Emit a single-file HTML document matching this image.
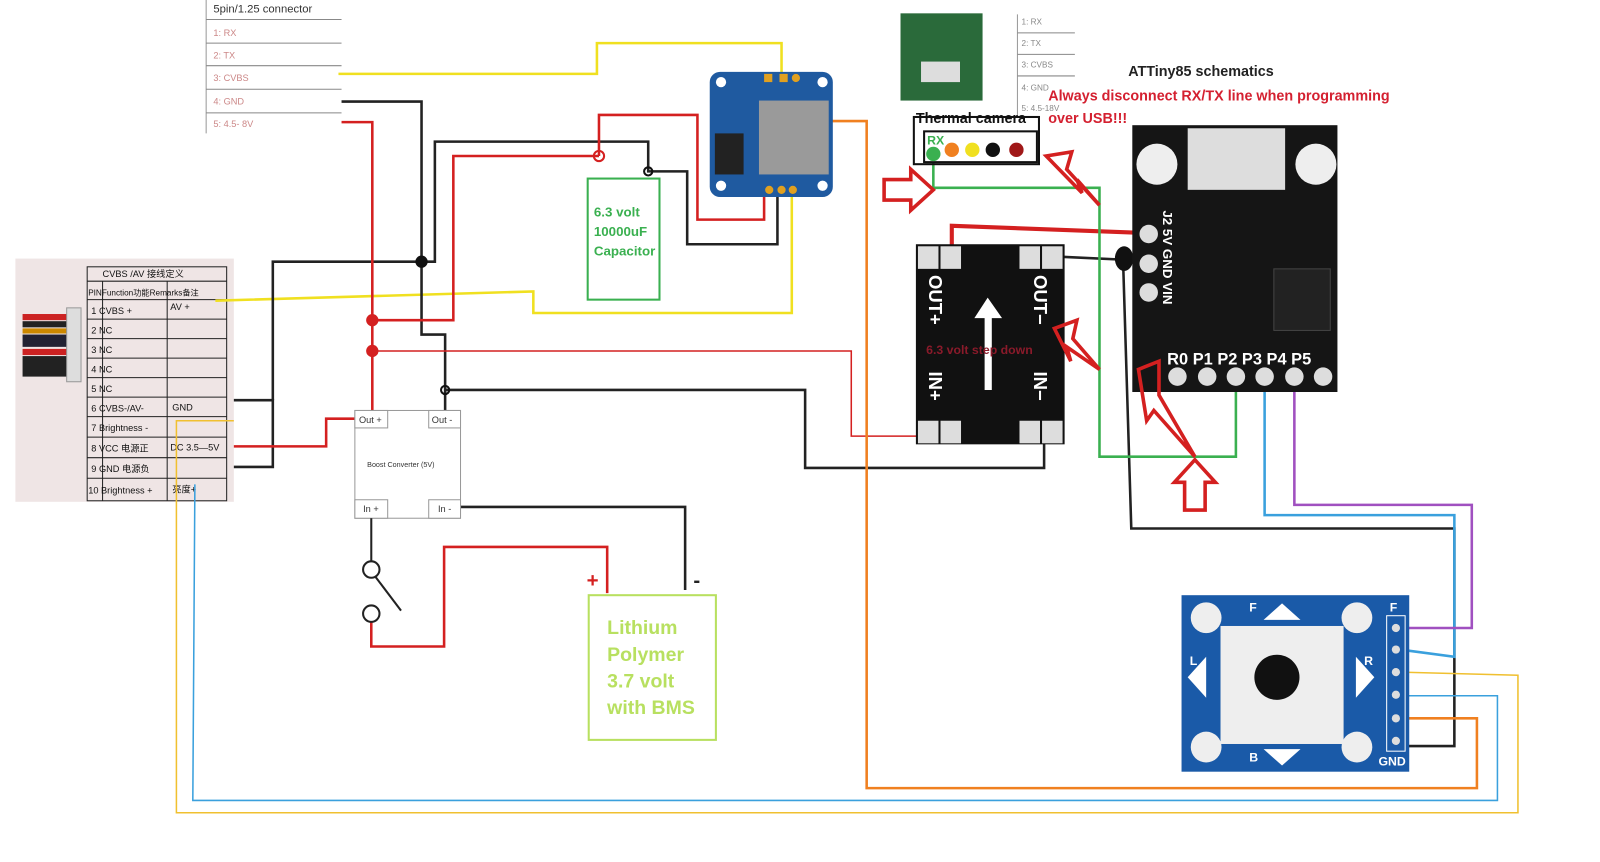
<!DOCTYPE html>
<html><head><meta charset="utf-8"><style>
html,body{margin:0;padding:0;background:#fff;width:1600px;height:862px;overflow:hidden}
svg{display:block}
text{font-family:"Liberation Sans","Noto Sans CJK SC",sans-serif}
</style></head><body>
<svg width="1600" height="862" viewBox="0 0 1560 840" preserveAspectRatio="none" xmlns="http://www.w3.org/2000/svg">
<rect width="1560" height="840" fill="#fff"/>
<g font-family="Liberation Serif" font-size="9" fill="#c88">
<line x1="201" y1="0" x2="201" y2="130" stroke="#999"/>
<text x="208" y="12" fill="#333" font-family="Liberation Mono" font-size="11">5pin/1.25 connector</text>
<line x1="201" y1="19" x2="333" y2="19" stroke="#888"/>
<text x="208" y="35">1: RX</text>
<line x1="201" y1="42" x2="333" y2="42" stroke="#888"/>
<text x="208" y="57">2: TX</text>
<line x1="201" y1="64" x2="333" y2="64" stroke="#888"/>
<text x="208" y="79">3: CVBS</text>
<line x1="201" y1="87" x2="333" y2="87" stroke="#888"/>
<text x="208" y="102">4: GND</text>
<line x1="201" y1="110" x2="333" y2="110" stroke="#888"/>
<text x="208" y="124">5: 4.5- 8V</text>
</g>
<rect x="15" y="252" width="213" height="237" fill="#efe5e5"/>
<g stroke="#222" fill="none" stroke-width="1">
<rect x="85" y="260" width="136" height="228"/>
<line x1="85" y1="274" x2="221" y2="274"/><line x1="85" y1="292" x2="221" y2="292"/>
<line x1="85" y1="311" x2="221" y2="311"/><line x1="85" y1="330" x2="221" y2="330"/>
<line x1="85" y1="349" x2="221" y2="349"/><line x1="85" y1="368" x2="221" y2="368"/>
<line x1="85" y1="387" x2="221" y2="387"/><line x1="85" y1="406" x2="221" y2="406"/>
<line x1="85" y1="426" x2="221" y2="426"/><line x1="85" y1="446" x2="221" y2="446"/>
<line x1="85" y1="466" x2="221" y2="466"/>
<line x1="100" y1="274" x2="100" y2="488"/><line x1="163" y1="274" x2="163" y2="488"/>
</g>
<g font-size="9" fill="#111">
<text x="100" y="270">CVBS /AV 接线定义</text>
<text x="86" y="288" font-size="8">PINFunction功能Remarks备注</text>
<text x="89" y="306">1  CVBS +</text><text x="166" y="302">AV +</text>
<text x="89" y="325">2  NC</text><text x="89" y="344">3  NC</text><text x="89" y="363">4  NC</text><text x="89" y="382">5  NC</text>
<text x="89" y="401">6  CVBS-/AV-</text><text x="168" y="400">GND</text>
<text x="89" y="420">7  Brightness -</text>
<text x="89" y="440">8  VCC 电源正</text><text x="166" y="439">DC 3.5—5V</text>
<text x="89" y="460">9  GND 电源负</text>
<text x="86" y="481">10 Brightness +</text><text x="168" y="480">亮度+</text>
</g>
<g><rect x="22" y="306" width="50" height="6" fill="#c22"/><rect x="22" y="313" width="50" height="6" fill="#222"/><rect x="22" y="320" width="50" height="5" fill="#c80"/><rect x="22" y="326" width="50" height="12" fill="#223"/><rect x="22" y="340" width="50" height="6" fill="#c22"/><rect x="22" y="347" width="50" height="20" fill="#222"/><rect x="65" y="300" width="14" height="72" fill="#ddd" stroke="#999"/></g>

<g fill="none" stroke-width="2.5">
<polyline stroke="#f0e020" points="330,72 582,72 582,42 762,42 762,72"/>
<polyline stroke="#f0e020" points="210,293 520,284 520,305 772,305 772,188"/>
<polyline stroke="#222" points="333,99 411,99 411,326 434,326 434,400"/>
<polyline stroke="#222" points="266,390 266,255 411,255"/>
<polyline stroke="#222" points="228,390 266,390 266,455 228,455"/>
<polyline stroke="#222" points="411,255 424,255 424,138 632,138 632,167 670,167 670,238 758,238 758,188"/>
<polyline stroke="#222" points="434,380 785,380 785,456 1018,456 1018,425"/>
<polyline stroke="#222" points="449,494 668,494 668,575"/>
<polyline stroke="#d42020" points="333,119 363,119 363,400"/>
<polyline stroke="#d42020" points="363,312 442,312 442,152 584,152"/>
<polyline stroke="#d42020" points="584,152 584,112 680,112 680,214 745,214 745,188"/>
<polyline stroke="#d42020" stroke-width="1.5" points="363,342 830,342 830,425 896,425"/>
<polyline stroke="#d42020" points="228,435 318,435 318,408 346,408"/>
<polyline stroke="#d42020" points="362,605 362,630 433,630 433,533 592,533 592,578"/>
<polyline stroke="#d42020" stroke-width="4" points="928,242 928,220 1115,227"/>
<polyline stroke="#222" stroke-width="2.5" points="1030,250 1115,254"/>
<polyline stroke="#222" points="1095,254 1103,515 1418,515 1418,727 1365,727"/>
<polyline stroke="#f08020" points="712,118 845,118 845,768 1440,768 1440,700 1365,700"/>
<polyline stroke="#3aa0dd" points="1233,365 1233,502 1418,502 1418,640 1365,633"/>
<polyline stroke="#a050c0" points="1262,365 1262,492 1435,492 1435,612 1365,612"/>
<polyline stroke="#3aa0dd" stroke-width="1.5" points="190,472 188,780 1460,780 1460,678 1365,678"/>
<polyline stroke="#f0c030" stroke-width="1.5" points="228,410 172,410 172,792 1480,792 1480,658 1365,655"/>
<polyline stroke="#3ab050" points="910,150 910,183 1072,183 1072,445 1205,445 1205,365"/>
</g>
<g fill="#d42020"><circle cx="363" cy="312" r="6"/><circle cx="363" cy="342" r="6"/><circle cx="584" cy="152" r="5" fill="none" stroke="#d42020" stroke-width="2"/></g>
<g fill="none" stroke="#111" stroke-width="2"><circle cx="411" cy="255" r="5" fill="#111"/><circle cx="632" cy="167" r="4"/><circle cx="434" cy="380" r="4"/></g>
<ellipse cx="1096" cy="252" rx="9" ry="12" fill="#111"/>

<rect x="573" y="174" width="70" height="118" fill="#fff" stroke="#3ab050" stroke-width="2"/>
<g font-size="13" font-weight="bold" fill="#3ab050"><text x="579" y="211">6.3 volt</text><text x="579" y="230">10000uF</text><text x="579" y="249">Capacitor</text></g>
<rect x="346" y="400" width="103" height="105" fill="#fff" stroke="#999"/>
<rect x="346" y="400" width="32" height="17" fill="#fff" stroke="#999"/><rect x="418" y="400" width="31" height="17" fill="#fff" stroke="#999"/>
<rect x="346" y="487" width="32" height="18" fill="#fff" stroke="#999"/><rect x="418" y="487" width="31" height="18" fill="#fff" stroke="#999"/>
<g font-size="9" fill="#333"><text x="350" y="412">Out +</text><text x="421" y="412">Out -</text><text x="354" y="499">In +</text><text x="427" y="499">In -</text><text x="358" y="455" font-size="7">Boost Converter (5V)</text></g>
<circle cx="362" cy="555" r="8" fill="#fff" stroke="#222" stroke-width="2"/><circle cx="362" cy="598" r="8" fill="#fff" stroke="#222" stroke-width="2"/>
<line x1="366" y1="562" x2="391" y2="595" stroke="#222" stroke-width="2"/>
<line x1="362" y1="505" x2="362" y2="547" stroke="#222" stroke-width="2"/>
<rect x="574" y="580" width="124" height="141" fill="#fff" stroke="#b8e060" stroke-width="2"/>
<g font-size="19" font-weight="bold" fill="#b8e060"><text x="592" y="618">Lithium</text><text x="592" y="644">Polymer</text><text x="592" y="670">3.7 volt</text><text x="592" y="696">with BMS</text></g>
<text x="572" y="572" font-size="20" font-weight="bold" fill="#d42020">+</text><text x="676" y="572" font-size="20" font-weight="bold" fill="#222">-</text>
<rect x="692" y="70" width="120" height="122" rx="10" fill="#1f5aa0"/>
<rect x="740" y="98" width="68" height="72" fill="#9a9a9a"/>
<rect x="697" y="130" width="28" height="40" fill="#222"/>
<g fill="#e0a020"><circle cx="750" cy="185" r="4"/><circle cx="762" cy="185" r="4"/><circle cx="773" cy="185" r="4"/><rect x="745" y="72" width="8" height="8"/><rect x="760" y="72" width="8" height="8"/><circle cx="776" cy="76" r="4"/></g>
<g fill="#fff"><circle cx="703" cy="80" r="5"/><circle cx="802" cy="80" r="5"/><circle cx="703" cy="181" r="5"/><circle cx="802" cy="181" r="5"/></g>
<rect x="878" y="13" width="80" height="85" fill="#2a6a3a"/>
<rect x="898" y="60" width="38" height="20" fill="#ddd"/>
<g font-size="8" fill="#888" font-family="Liberation Serif"><line x1="992" y1="14" x2="992" y2="112" stroke="#999"/>
<text x="996" y="24">1: RX</text><line x1="992" y1="32" x2="1048" y2="32" stroke="#888"/>
<text x="996" y="45">2: TX</text><line x1="992" y1="53" x2="1048" y2="53" stroke="#888"/>
<text x="996" y="66">3: CVBS</text><line x1="992" y1="74" x2="1048" y2="74" stroke="#888"/>
<text x="996" y="88">4: GND</text><text x="996" y="108">5: 4.5-18V</text></g>
<text x="893" y="120" font-size="14" font-weight="bold" fill="#111">Thermal camera</text>
<rect x="891" y="114" width="122" height="46" fill="none" stroke="#111" stroke-width="2"/>
<rect x="901" y="128" width="110" height="30" fill="#fff" stroke="#111" stroke-width="2"/>
<g><circle cx="910" cy="150" r="7" fill="#3ab050"/><circle cx="928" cy="146" r="7" fill="#f08020"/><circle cx="948" cy="146" r="7" fill="#f0e020"/><circle cx="968" cy="146" r="7" fill="#111"/><circle cx="991" cy="146" r="7" fill="#a01818"/></g>
<text x="904" y="141" font-size="12" font-weight="bold" fill="#3ab050">RX</text>
<text x="1100" y="74" font-size="14" font-weight="bold" fill="#222">ATTiny85 schematics</text>
<text x="1022" y="98" font-size="14" font-weight="bold" fill="#d42030">Always disconnect RX/TX line when programming</text>
<text x="1022" y="120" font-size="14" font-weight="bold" fill="#d42030">over USB!!!</text>
<rect x="1104" y="122" width="200" height="260" fill="#151515"/>
<rect x="1158" y="125" width="95" height="60" fill="#ddd"/>
<g fill="#eee"><circle cx="1128" cy="160" r="20"/><circle cx="1283" cy="160" r="20"/></g>
<rect x="1242" y="262" width="55" height="60" fill="#222" stroke="#444"/>
<g fill="#ddd"><circle cx="1148" cy="367" r="9"/><circle cx="1177" cy="367" r="9"/><circle cx="1205" cy="367" r="9"/><circle cx="1233" cy="367" r="9"/><circle cx="1262" cy="367" r="9"/><circle cx="1290" cy="367" r="9"/><circle cx="1120" cy="228" r="9"/><circle cx="1120" cy="257" r="9"/><circle cx="1120" cy="285" r="9"/></g>
<text x="1138" y="355" font-size="16" font-weight="bold" fill="#fff">R0 P1 P2 P3 P4 P5</text>
<text transform="translate(1134,205) rotate(90)" font-size="13" font-weight="bold" fill="#fff">J2  5V GND VIN</text>
<rect x="893" y="238" width="145" height="195" fill="#111"/>
<g fill="#ddd"><rect x="895" y="240" width="20" height="22"/><rect x="917" y="240" width="20" height="22"/><rect x="994" y="240" width="20" height="22"/><rect x="1016" y="240" width="20" height="22"/><rect x="895" y="410" width="20" height="22"/><rect x="917" y="410" width="20" height="22"/><rect x="994" y="410" width="20" height="22"/><rect x="1016" y="410" width="20" height="22"/></g>
<g font-size="18" font-weight="bold" fill="#fff"><text transform="translate(906,268) rotate(90)">OUT+</text><text transform="translate(1008,268) rotate(90)">OUT−</text><text transform="translate(906,362) rotate(90)">IN+</text><text transform="translate(1008,362) rotate(90)">IN−</text></g>
<path d="M963 290 L950 310 L960 310 L960 380 L967 380 L967 310 L977 310 Z" fill="#fff"/>
<text x="903" y="345" font-size="12" font-weight="bold" fill="#8a1a2a">6.3 volt step down</text>
<rect x="1152" y="580" width="222" height="172" fill="#1a5aa8"/>
<rect x="1190" y="610" width="120" height="115" fill="#eee"/>
<circle cx="1245" cy="660" r="22" fill="#111"/>
<g fill="#eee"><circle cx="1176" cy="602" r="15"/><circle cx="1323" cy="602" r="15"/><circle cx="1176" cy="728" r="15"/><circle cx="1323" cy="728" r="15"/></g>
<g fill="#fff"><path d="M1232 604 L1250 588 L1268 604Z"/><path d="M1232 730 L1250 746 L1268 730Z"/><path d="M1158 660 L1176 640 L1176 680Z"/><path d="M1340 660 L1322 640 L1322 680Z"/></g>
<rect x="1352" y="600" width="18" height="132" fill="none" stroke="#fff"/>
<g fill="#ddd"><circle cx="1361" cy="612" r="4"/><circle cx="1361" cy="633" r="4"/><circle cx="1361" cy="655" r="4"/><circle cx="1361" cy="677" r="4"/><circle cx="1361" cy="700" r="4"/><circle cx="1361" cy="722" r="4"/></g>
<g font-size="12" font-weight="bold" fill="#fff"><text x="1355" y="596">F</text><text x="1344" y="746">GND</text><text x="1218" y="596">F</text><text x="1218" y="742">B</text><text x="1160" y="648">L</text><text x="1330" y="648">R</text></g>
<g fill="none" stroke="#d42020" stroke-width="3.5">
<path d="M862 175 L888 175 L888 165 L910 185 L888 205 L888 195 L862 195 Z"/>
<path d="M1020 152 L1045 148 L1040 165 L1072 200 L1050 175 L1055 188 Z"/>
<path d="M1028 320 L1050 312 L1046 330 L1072 360 L1040 338 L1044 352 Z"/>
<path d="M1110 360 L1130 352 L1130 385 L1165 445 L1125 400 L1118 410 Z"/>
<path d="M1145 470 L1165 448 L1185 470 L1175 470 L1175 497 L1155 497 L1155 470 Z"/>
</g>
</svg>
</body></html>
